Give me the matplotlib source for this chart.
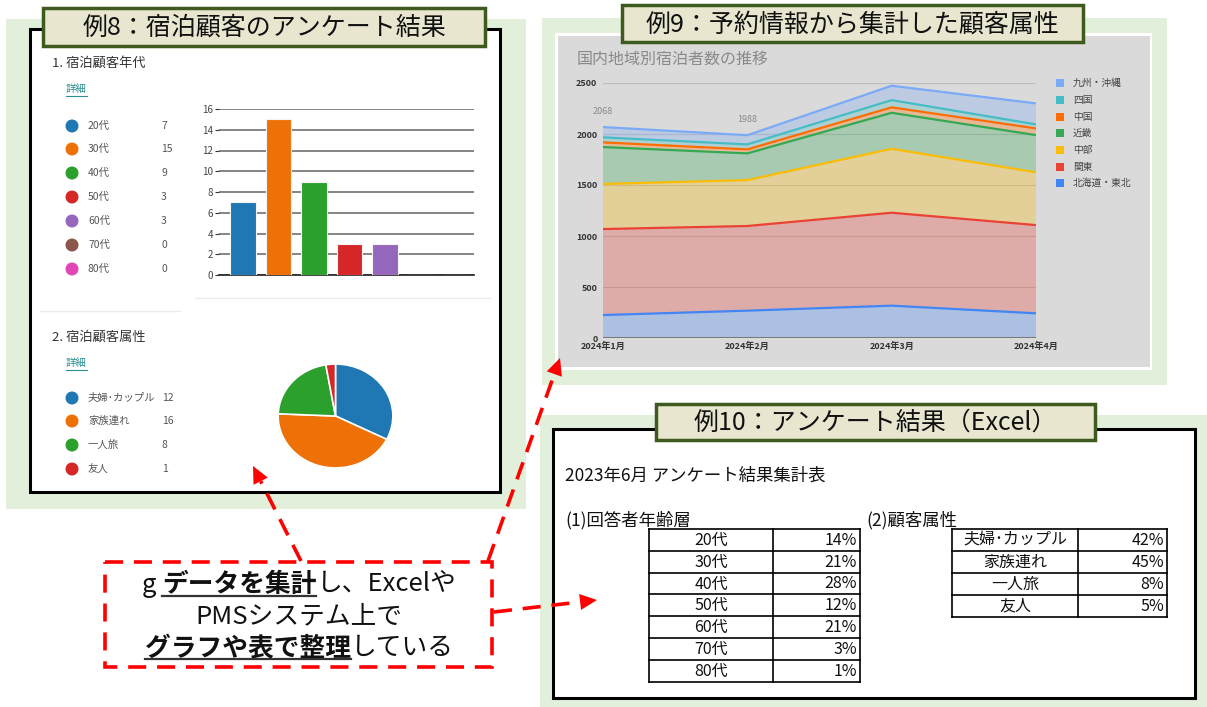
import numpy as np
import matplotlib
matplotlib.use("Agg")
import matplotlib.pyplot as plt
from matplotlib.patches import Rectangle, Circle, Polygon

plt.rcParams['font.family'] = ['Noto Sans CJK JP', 'DejaVu Sans']

# ---- data ----
age_labels = ['20代', '30代', '40代', '50代', '60代', '70代', '80代']
age_counts = [7, 15, 9, 3, 3, 0, 0]
age_colors = ['#1f77b4', '#ee7108', '#2ca02c', '#d62728', '#9467bd', '#8c564b', '#e046b4']

attr_labels = ['夫婦･カップル', '家族連れ', '一人旅', '友人']
attr_counts = [12, 16, 8, 1]
attr_colors = ['#1f77b4', '#ee7108', '#2ca02c', '#d62728']

months = ['2024年1月', '2024年2月', '2024年3月', '2024年4月']
regions = ['北海道・東北', '関東', '中部', '近畿', '中国', '四国', '九州・沖縄']
hokkaido = [225, 268, 317, 242]
kanto = [843, 830, 911, 865]
chubu = [442, 450, 627, 517]
kinki = [362, 262, 353, 365]
chugoku = [46, 39, 53, 66]
shikoku = [49, 49, 71, 39]
kyushu = [101, 90, 141, 206]
region_colors = ['#4285f4', '#ea4335', '#fbbc04', '#34a853', '#ff6d01', '#46bdc6', '#7baaf7']
total_labels = {0: '2068', 1: '1988'}

age_pct = ['14%', '21%', '28%', '12%', '21%', '3%', '1%']
attr_pct = ['42%', '45%', '8%', '5%']

W, H = 1207, 707
fig = plt.figure(figsize=(W / 100, H / 100), dpi=100)
bg = fig.add_axes([0, 0, 1, 1])
bg.set_xlim(0, W)
bg.set_ylim(H, 0)
bg.axis('off')


def px_axes(x0, y0, x1, y1):
    return fig.add_axes([x0 / W, 1 - y1 / H, (x1 - x0) / W, (y1 - y0) / H])


def rect(x0, y0, x1, y1, **kw):
    bg.add_patch(Rectangle((x0, y0), x1 - x0, y1 - y0, **kw))


GREEN = '#e2efda'
BEIGE = '#e9e6cf'
OLIVE = '#3f5a1f'

# panels
rect(6, 19, 526, 509, fc=GREEN, ec='none')
rect(30, 29, 500, 492, fc='white', ec='black', lw=2.2)
rect(542, 18, 1167, 385, fc=GREEN, ec='none')
rect(555, 33, 1152, 370, fc='white', ec='none')
rect(558, 36, 1150, 367, fc='#dadada', ec='none')
rect(540, 415, 1207, 707, fc=GREEN, ec='none')
rect(553, 429, 1195, 698, fc='white', ec='black', lw=2.2)

titles = [((43, 8, 485, 46), '例8：宿泊顧客のアンケート結果'),
          ((622, 5, 1083, 42), '例9：予約情報から集計した顧客属性'),
          ((656, 404, 1095, 440), '例10：アンケート結果（Excel）')]
for (x0, y0, x1, y1), t in titles:
    rect(x0, y0, x1, y1, fc=BEIGE, ec=OLIVE, lw=2.5, zorder=5)
    bg.text((x0 + x1) / 2, (y0 + y1) / 2 + 1, t, ha='center', va='center',
            fontsize=18, color='#111111', zorder=6)

# ---- 例8 left side: headings + legends ----
bg.text(52, 63, '1. 宿泊顧客年代', fontsize=9.5, color='#333333', va='center')
bg.text(66, 89, '詳細', fontsize=7.5, color='#2a8f8f', va='center')
bg.plot([66, 87], [96, 96], color='#2a8f8f', lw=0.8)
age_y = [126, 149, 173, 197, 221, 245, 269]
for yy, lab, val, c in zip(age_y, age_labels, age_counts, age_colors):
    bg.add_patch(Circle((72, yy), 6.5, fc=c, ec='none'))
    bg.text(88, yy, lab, fontsize=7.5, color='#555555', va='center')
    bg.text(161, yy, str(val), fontsize=7.5, color='#555555', va='center')

bg.plot([195, 490], [298, 298], color='#ececec', lw=1)
bg.plot([40, 180], [311, 311], color='#ececec', lw=1)

bg.text(52, 337, '2. 宿泊顧客属性', fontsize=9.5, color='#333333', va='center')
bg.text(66, 363, '詳細', fontsize=7.5, color='#2a8f8f', va='center')
bg.plot([66, 87], [370, 370], color='#2a8f8f', lw=0.8)
attr_y = [398, 421, 445, 469]
for yy, lab, val, c in zip(attr_y, attr_labels, attr_counts, attr_colors):
    bg.add_patch(Circle((72, yy), 6.5, fc=c, ec='none'))
    bg.text(88, yy, lab, fontsize=7.5, color='#555555', va='center')
    bg.text(162, yy, str(val), fontsize=7.5, color='#555555', va='center')

# bar chart
axb = px_axes(219, 109, 474, 275)
axb.set_facecolor('none')
xpos = np.arange(len(age_labels))
axb.bar(xpos, age_counts, width=0.72, color=age_colors, edgecolor='#f4f4f4', lw=0.8, zorder=3)
axb.set_xlim(-0.68, 6.5)
axb.set_ylim(0, 16)
axb.set_yticks(range(0, 17, 2))
axb.set_xticks([])
axb.yaxis.grid(True, color='#6f6f6f', lw=1.2)
axb.set_axisbelow(True)
for s in ['top', 'right', 'left']:
    axb.spines[s].set_visible(False)
axb.spines['bottom'].set_color('#222222')
axb.spines['bottom'].set_linewidth(1.2)
axb.tick_params(axis='y', length=3, width=0.8, color='#333333', labelsize=7, labelcolor='#444444', pad=1)

# pie chart
axp = px_axes(277, 363, 394, 469)
axp.pie(attr_counts, colors=attr_colors, startangle=90, counterclock=False,
        wedgeprops=dict(edgecolor='white', linewidth=1.2))
axp.set_aspect('auto')
axp.set_xlim(-1.02, 1.02)
axp.set_ylim(-1.02, 1.02)

# ---- 例9 area chart ----
bg.text(577, 59, '国内地域別宿泊者数の推移', fontsize=11.5, color='#8a8a8a', va='center')
axa = px_axes(603, 83, 1036, 338)
axa.set_facecolor('none')
series = [hokkaido, kanto, chubu, kinki, chugoku, shikoku, kyushu]
xm = np.arange(len(months))
axa.stackplot(xm, series, colors=region_colors, alpha=0.3, zorder=2)
cum = np.cumsum(np.array(series), axis=0)
for row, c in zip(cum, region_colors):
    axa.plot(xm, row, color=c, lw=1.6, zorder=3)
for i, t in total_labels.items():
    axa.annotate(t, (xm[i], cum[-1][i]), xytext=(0, 16), textcoords='offset pixels',
                 ha='center', va='center', fontsize=6.5, color='#8a8a8a')
axa.set_xlim(0, 3)
axa.set_ylim(0, 2500)
axa.set_yticks(range(0, 2501, 500))
axa.set_xticks(xm)
axa.set_xticklabels(months)
axa.yaxis.grid(True, color='#bdbdbd', lw=0.9, zorder=1)
axa.axhline(0, color='#7a7a7a', lw=2.2, zorder=4)
for s in axa.spines.values():
    s.set_visible(False)
axa.tick_params(length=0, labelsize=6.5, labelcolor='#333333', pad=4)
for lab in axa.get_xticklabels() + axa.get_yticklabels():
    lab.set_fontweight('bold')
axa.tick_params(axis='x', pad=3)

leg_y = [83, 100, 117, 133, 150, 167, 183]
for yy, lab, c in zip(leg_y, regions[::-1], region_colors[::-1]):
    rect(1056, yy - 4, 1064, yy + 4, fc=c, ec='none')
    bg.text(1073, yy, lab, fontsize=7, color='#444444', va='center')

# ---- 例10 Excel tables ----
XL = 12.5
bg.text(565, 476, '2023年6月 アンケート結果集計表', fontsize=XL, color='#111111', va='center')
bg.text(565, 520, '(1)回答者年齢層', fontsize=XL, color='#111111', va='center')
bg.text(866, 520, '(2)顧客属性', fontsize=XL, color='#111111', va='center')


def table(x0, xm_, x1, y0, rh, left, right, size=11.5):
    n = len(left)
    for i in range(n + 1):
        bg.plot([x0, x1], [y0 + i * rh, y0 + i * rh], color='black', lw=1.2)
    for xx in (x0, xm_, x1):
        bg.plot([xx, xx], [y0, y0 + n * rh], color='black', lw=1.2)
    for i in range(n):
        yc = y0 + (i + 0.5) * rh + 0.5
        bg.text((x0 + xm_) / 2, yc, left[i], ha='center', va='center', fontsize=size, color='#111111')
        bg.text(x1 - 3, yc, right[i], ha='right', va='center', fontsize=size, color='#111111')


table(649, 773, 860, 529, 21.8, age_labels, age_pct)
table(952, 1078, 1167, 529, 21.9, attr_labels, attr_pct)

# ---- red dashed callout ----
RED = '#ff0000'
rect(105, 562, 492, 667, fc='white', ec=RED, lw=2.6, ls=(0, (5, 3)), zorder=7)


def arrow(x0, y0, x1, y1, L=17, w=8):
    d = np.array([x1 - x0, y1 - y0], float)
    d /= np.hypot(*d)
    p = np.array([-d[1], d[0]])
    tip = np.array([x1, y1], float)
    base = tip - L * d
    bg.plot([x0, base[0]], [y0, base[1]], color=RED, lw=2.6, ls=(0, (5, 3)), zorder=8)
    bg.add_patch(Polygon([tip, base + w * p, base - w * p], closed=True, fc=RED, ec='none', zorder=8))


arrow(301, 561, 253, 466)
arrow(488, 561, 560, 358)
arrow(494, 612, 597, 600)

renderer = fig.canvas.get_renderer()


def rich_line(yb, segs, cx=299, size=18.5):
    objs = []
    for s, b in segs:
        t = bg.text(0, yb, s, fontsize=size, fontweight='bold' if b else 'normal',
                    va='baseline', ha='left', color='#111111', zorder=9)
        objs.append((t, b))
    widths = [t.get_window_extent(renderer).width for t, _ in objs]
    x = cx - sum(widths) / 2
    for (t, b), wd in zip(objs, widths):
        t.set_x(x)
        if b:
            bg.plot([x, x + wd], [yb + 3.5, yb + 3.5], color='#333333', lw=1.6, zorder=9)
        x += wd


rich_line(592, [('g ', False), ('データを集計', True), ('し、Excelや', False)])
rich_line(623, [('PMSシステム上で', False)])
rich_line(655, [('グラフや表で整理', True), ('している', False)])

fig.savefig('out.png', dpi=100)
